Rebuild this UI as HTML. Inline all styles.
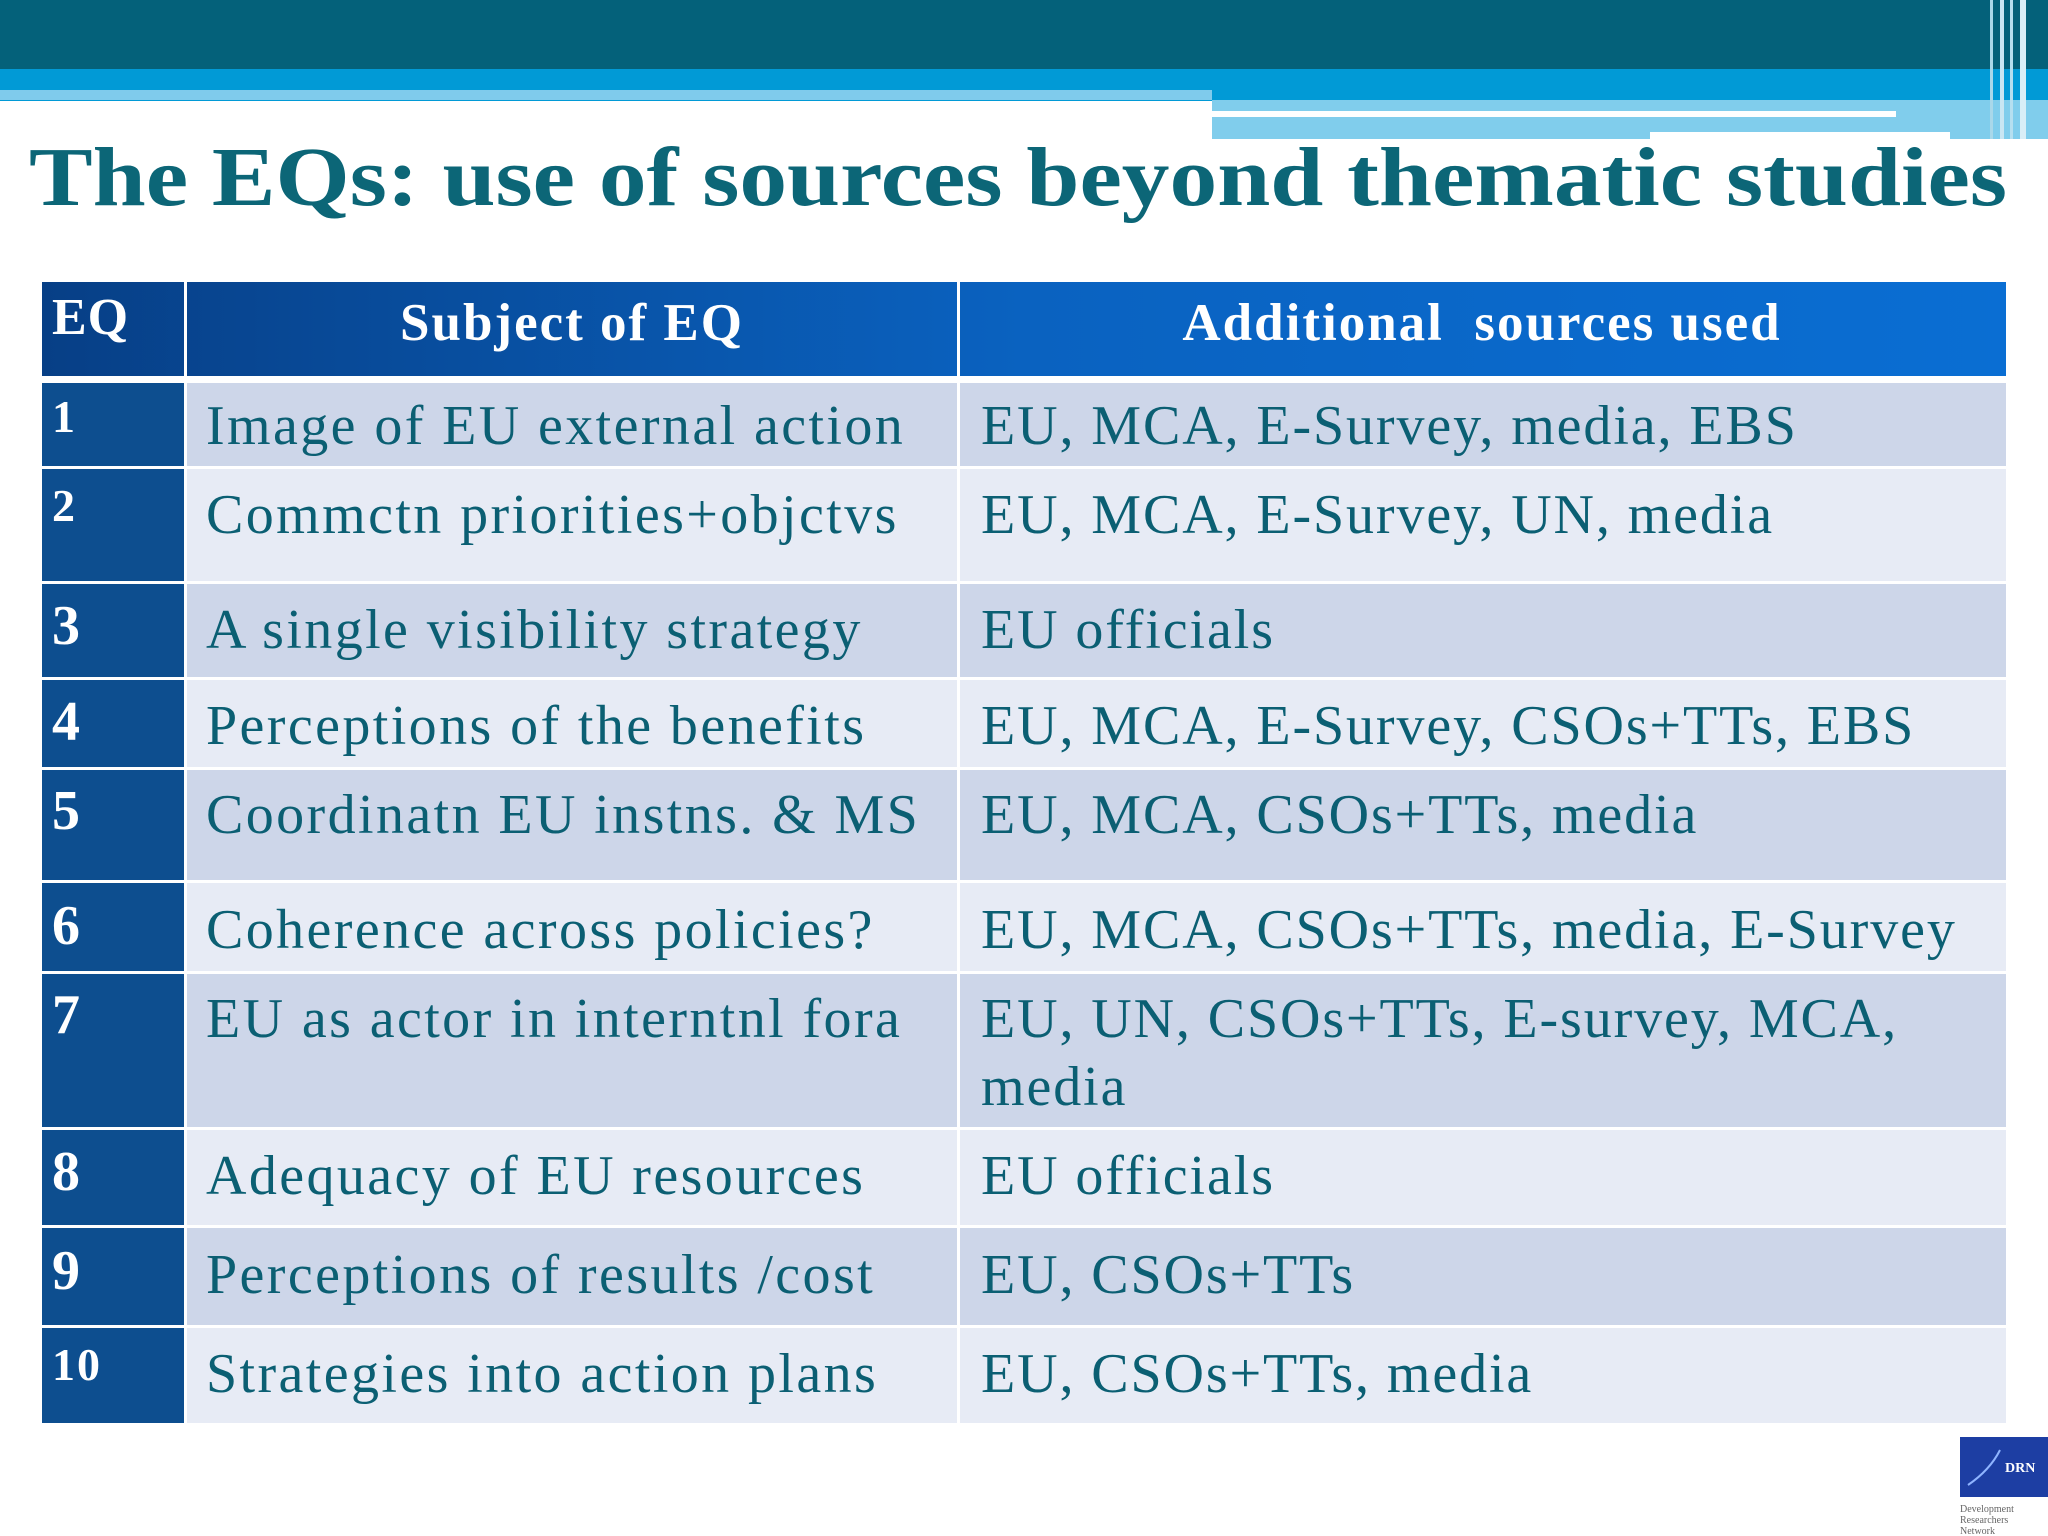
<!DOCTYPE html>
<html><head><meta charset="utf-8"><style>
html,body{margin:0;padding:0;width:2048px;height:1536px;overflow:hidden;background:#fff}
svg text{font-family:"Liberation Serif",serif}
</style></head><body>
<svg width="2048" height="1536" viewBox="0 0 2048 1536" xmlns="http://www.w3.org/2000/svg">
<defs>
<linearGradient id="hg" x1="0" x2="1" y1="0" y2="0"><stop offset="0" stop-color="#073f86"/><stop offset="0.5" stop-color="#0a62c0"/><stop offset="1" stop-color="#0a6ed3"/></linearGradient>
</defs>
<g>
<rect x="0" y="0" width="2048" height="70" fill="#04617a"/>
<rect x="0" y="69" width="2048" height="32" fill="#019ad6"/>
<rect x="0" y="90" width="1212" height="10" fill="#7fcbec"/>
<rect x="1212" y="100" width="836" height="39" fill="#80cdec"/>
<rect x="1212" y="111" width="684" height="6" fill="#fff"/>
<rect x="1650" y="132" width="300" height="8" fill="#fff"/>
<rect x="1990" y="0" width="3" height="139" fill="#a9d8ea"/>
<rect x="2000" y="0" width="4" height="139" fill="#c9e6f3"/>
<rect x="2010" y="0" width="3" height="139" fill="#b5dff0"/>
<rect x="2020" y="0" width="6" height="139" fill="#d9eef7"/>
</g>
<text x="29" y="205" font-size="84" font-weight="bold" fill="#0c6677" textLength="1978" lengthAdjust="spacingAndGlyphs">The EQs: use of sources beyond thematic studies</text>

<g>
<rect x="42" y="282" width="1964" height="94" fill="url(#hg)"/>
<rect x="184" y="282" width="3" height="94" fill="#fff"/>
<rect x="957" y="282" width="3" height="94" fill="#fff"/>
<text x="52" y="334" font-size="52" font-weight="bold" fill="#fff" letter-spacing="1">EQ</text>
<text x="572" y="340" font-size="53" font-weight="bold" fill="#fff" text-anchor="middle" letter-spacing="2">Subject of EQ</text>
<text x="1482" y="340" font-size="53" font-weight="bold" fill="#fff" text-anchor="middle" letter-spacing="2" xml:space="preserve">Additional  sources used</text>
</g>
<g id="rows"></g>
<g>
<rect x="1960" y="1437" width="88" height="60" fill="#1d3ea3"/>
<path d="M1968 1485 Q1990 1470 2000 1450" stroke="#8fb4ff" stroke-width="2" fill="none"/>
<text x="2005" y="1472" font-size="14" font-weight="bold" fill="#fff" font-family="Liberation Sans">DRN</text>
<text x="1960" y="1512" font-size="10" fill="#666" font-family="Liberation Sans">Development</text>
<text x="1960" y="1523" font-size="10" fill="#666" font-family="Liberation Sans">Researchers</text>
<text x="1960" y="1534" font-size="10" fill="#666" font-family="Liberation Sans">Network</text>
</g>
</svg>
<script>
const eqNums=["1","2","3","4","5","6","7","8","9","10"];
const subjects=["Image of EU external action","Commctn priorities+objctvs","A single visibility strategy","Perceptions of the benefits","Coordinatn EU instns. & MS","Coherence across policies?","EU as actor in interntnl fora","Adequacy of EU resources","Perceptions of results /cost","Strategies into action plans"];
const sources=[["EU, MCA, E-Survey, media, EBS"],["EU, MCA, E-Survey, UN, media"],["EU officials"],["EU, MCA, E-Survey, CSOs+TTs, EBS"],["EU, MCA, CSOs+TTs, media"],["EU, MCA, CSOs+TTs, media, E-Survey"],["EU, UN, CSOs+TTs, E-survey, MCA,","media"],["EU officials"],["EU, CSOs+TTs"],["EU, CSOs+TTs, media"]];
const rowTops=[381,467,582,678,768,881,972,1128,1226,1326,1424];
const baselines=[444,533,648,744,833,948,1037,1194,1293,1392];
const g=document.getElementById('rows');
const NS="http://www.w3.org/2000/svg";
function mk(t,a){const e=document.createElementNS(NS,t);for(const k in a)e.setAttribute(k,a[k]);g.appendChild(e);return e;}
for(let i=0;i<eqNums.length;i++){
 const y=rowTops[i]+2,h=rowTops[i+1]-rowTops[i]-3;
 const fill=i%2===0?"#cdd6e9":"#e7ebf5";
 const c0=mk('rect',{x:42,y:y,width:142,height:h,fill:"#0d4e8f"});
 
 
 const c1=mk('rect',{x:187,y:y,width:770,height:h,fill:fill});
 
 
 const c2=mk('rect',{x:960,y:y,width:1046,height:h,fill:fill});
 
 
 const small=(i===0||i===1||i===9);
 const n=mk('text',{x:52,y:baselines[i]-(small?12:4),'font-size':small?46:56,'font-weight':'bold',fill:'#fff','letter-spacing':'2'});
 n.textContent=eqNums[i];
 
 
 const s=mk('text',{x:206,y:baselines[i],'font-size':56,fill:'#0b5f73','letter-spacing':'2.4'});
 s.textContent=subjects[i];
 
 
 sources[i].forEach((line,j)=>{
  const t=mk('text',{x:981,y:baselines[i]+j*68,'font-size':56,fill:'#0b5f73','letter-spacing':'1.9'});
  t.textContent=line;
  
  
 });
}
</script>
</body></html>
